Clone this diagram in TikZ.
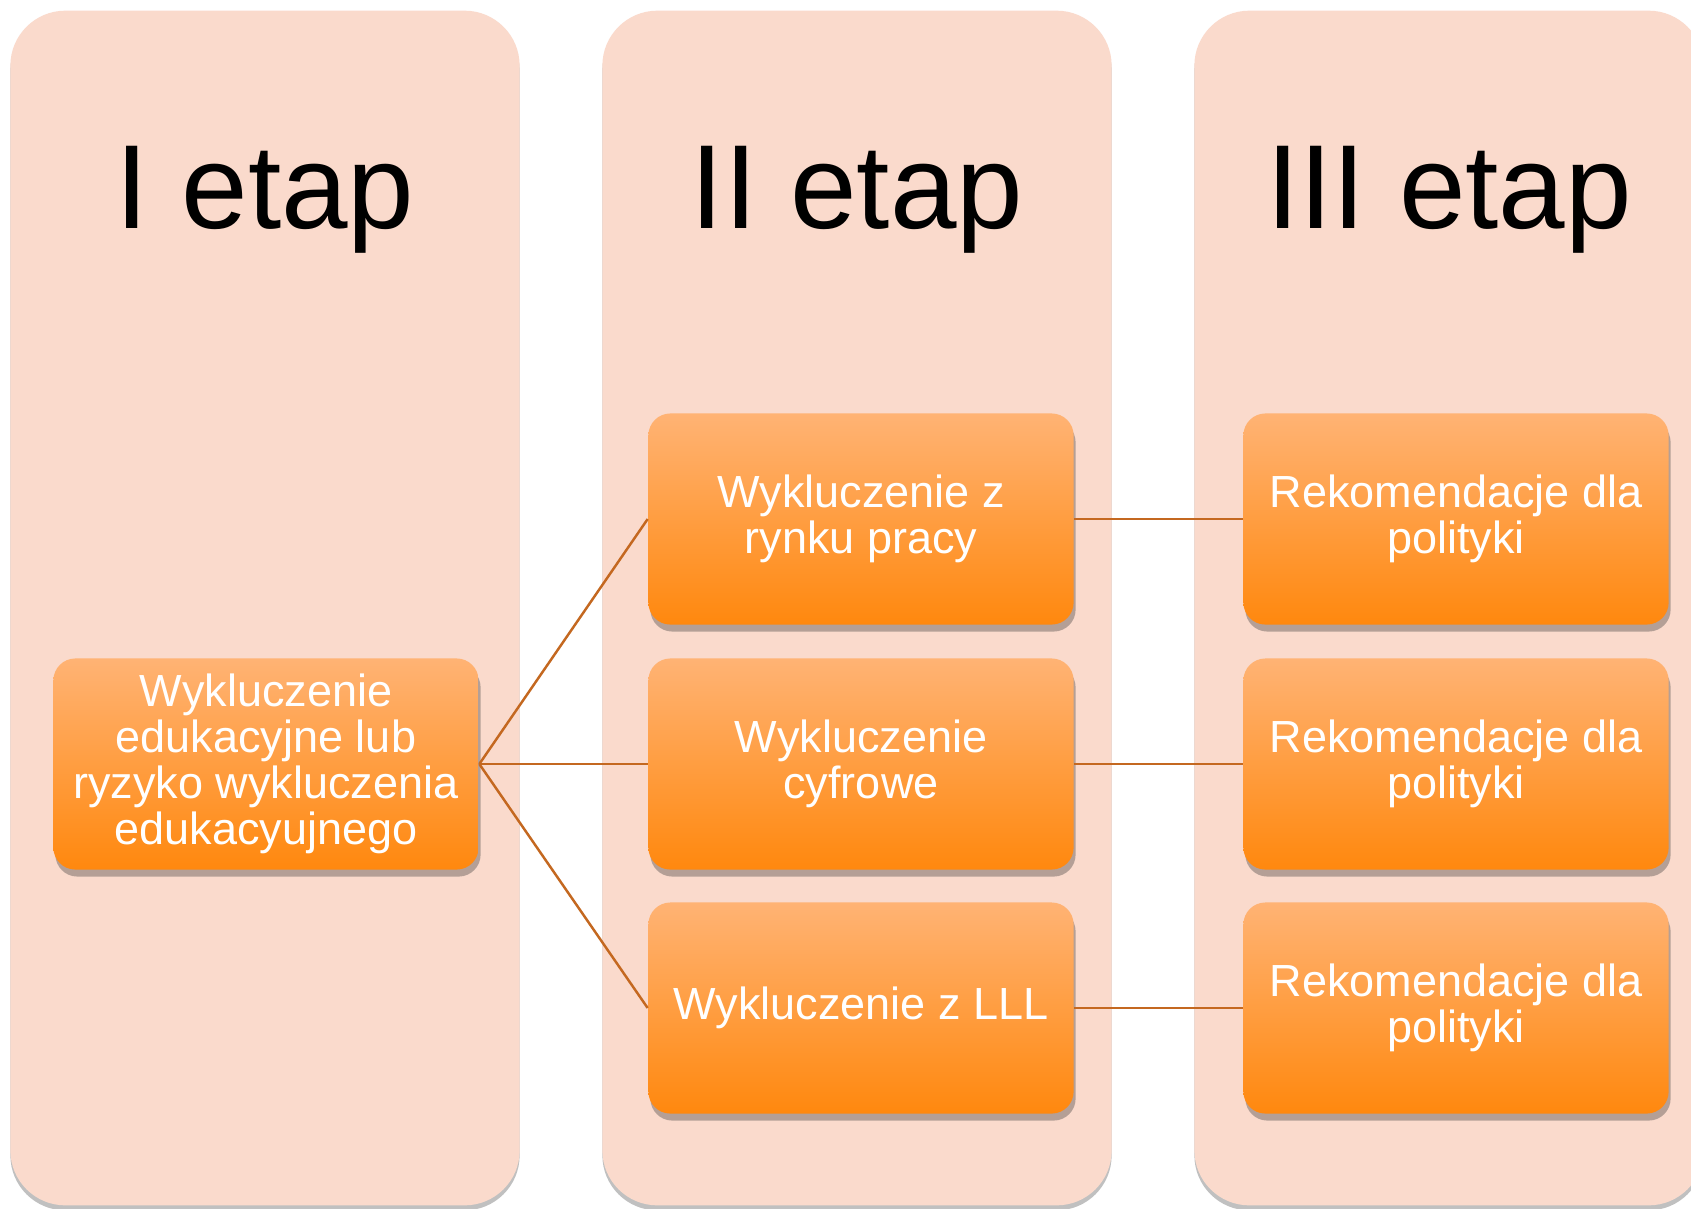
\documentclass[tikz,border=0pt]{standalone}
\usepackage{fontspec}
\setmainfont{Liberation Sans}
\usetikzlibrary{shadows}
\definecolor{stagefill}{RGB}{250,218,204}
\definecolor{boxtop}{RGB}{255,179,116}
\definecolor{boxbottom}{RGB}{255,136,14}
\definecolor{linkcolor}{RGB}{196,104,32}
\begin{document}
\begin{tikzpicture}
[x=0.01cm,y=-0.01cm,
  stagedecorate/.style={shape=rectangle,rounded corners=0.55cm,fill=stagefill,
    minimum width=5.09cm,minimum height=11.94cm,inner sep=0pt,
    drop shadow={shadow xshift=0pt,shadow yshift=-0.05cm,opacity=0.35,fill=black!70}},%
  titledecorate/.style={anchor=base,font=\fontsize{34}{40}\selectfont},%
  boxdecorate/.style={shape=rectangle,rounded corners=0.22cm,top color=boxtop,
    bottom color=boxbottom,minimum width=4.25cm,minimum height=2.11cm,inner sep=0pt,
    align=center,text=white,font=\fontsize{12.8}{13.1}\selectfont,
    drop shadow={shadow xshift=0.02cm,shadow yshift=-0.07cm,opacity=0.35,fill=black!80}},%
  linedecorate/.style={-,draw=linkcolor,line width=0.7pt}]
\useasboundingbox (0,0) rectangle (1691,1208);
\clip (0,0) rectangle (1691,1208);
\fill[white] (0,0) rectangle (1691,1208);
%% stages (columns with titles)
\foreach \nodename/\x/\caption in {stage1/265/I etap, stage2/857/II etap,
  stage3/1449/III etap} {
  \node (\nodename) at (\x,608) [stagedecorate] {};
  \node [titledecorate] at (\x,228) {\caption};
}
%% boxes
\foreach \nodename/\x/\y/\caption in {
  edu/266/764/{Wykluczenie\\edukacyjne lub\\ryzyko wykluczenia\\edukacyujnego},
  labour/861/519/{Wykluczenie z\\rynku pracy},
  digital/861/764/{Wykluczenie\\cyfrowe},
  lll/861/1008/{Wykluczenie z LLL},
  recA/1456/519/{Rekomendacje dla\\polityki},
  recB/1456/764/{Rekomendacje dla\\polityki},
  recC/1456/1008/{Rekomendacje dla\\polityki}} {
  \node (\nodename) at (\x,\y) [boxdecorate] {\caption};
}
%% edges or lines
\path
\foreach \startnode/\endnode in {edu/labour, edu/digital, edu/lll,
  labour/recA, digital/recB, lll/recC} {
  (\startnode.east) edge[linedecorate] (\endnode.west)
};
\end{tikzpicture}
\end{document}
